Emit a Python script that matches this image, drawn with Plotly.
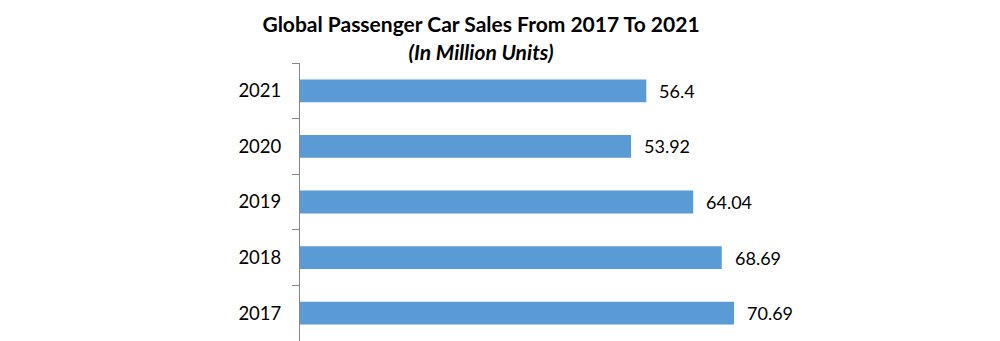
import plotly.graph_objects as go

years = ["2017", "2018", "2019", "2020", "2021"]
sales = [70.69, 68.69, 64.04, 53.92, 56.4]
labels = ["70.69", "68.69", "64.04", "53.92", "56.4"]

FONT = "Lato"

fig = go.Figure()
fig.add_trace(go.Bar(
    x=sales, y=years, orientation="h",
    marker=dict(color="#5B9BD5", line=dict(width=0)),
    width=0.41,
    hoverinfo="skip",
))

for i, (v, t) in enumerate(zip(sales, labels)):
    fig.add_annotation(x=v, y=i, text=t, showarrow=False, xanchor="left",
                       xshift=11, font=dict(family=FONT, size=18, color="#000000"))

fig.update_layout(
    width=1000, height=341,
    margin=dict(l=300, r=86, t=63, b=0),
    paper_bgcolor="white", plot_bgcolor="white",
    showlegend=False,
    title=dict(
        text="<b>Global Passenger Car Sales From 2017 To 2021</b><br><b><i>(In Million Units)</i></b>",
        x=0.481, xanchor="center", xref="container",
        y=0.905, yanchor="top", yref="container",
        font=dict(family=FONT, size=21, color="#000000"),
    ),
    xaxis=dict(range=[0, 100], visible=False, fixedrange=True),
    yaxis=dict(
        type="category", categoryorder="array", categoryarray=years,
        range=[-0.5, 4.5], autorange=False,
        showline=True, linecolor="#868686", linewidth=1,
        ticks="outside", tickson="boundaries", ticklen=7, tickcolor="#868686",
        showgrid=False, ticklabelstandoff=14,
        tickfont=dict(family=FONT, size=18.5, color="#000000"),
    ),
    bargap=0.59,
)

fig.write_html("out.html")
